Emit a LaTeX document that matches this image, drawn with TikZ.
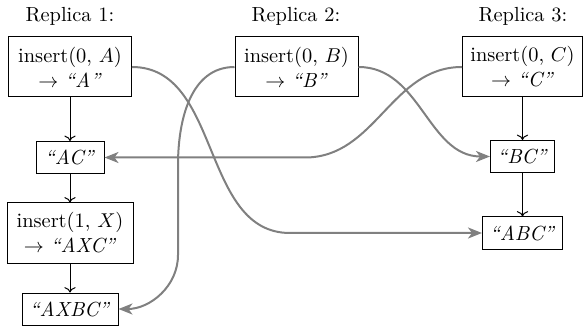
\documentclass[tikz,border=0pt]{standalone}
\usepackage{fontspec}
\usetikzlibrary{arrows.meta}
\begin{document}
\begin{tikzpicture}[x=0.5pt,y=-0.5pt,
  every node/.style={font=\fontsize{10.2}{12.5}\selectfont},
  box/.style={draw, line width=0.5pt, inner sep=0pt, align=center, minimum height=16pt},
  dbox/.style={box, minimum height=30pt},
  flow/.style={->, line width=0.5pt},
  msg/.style={-{Stealth[length=7pt,width=5.5pt,inset=2pt]}, draw=black!50, line width=1pt},
  lbl/.style={inner sep=0pt}]
\useasboundingbox (0,0) rectangle (583,331);
\node[lbl] (r1) at (70,16) {Replica 1:};
\node[lbl] (r2) at (296,16) {Replica 2:};
\node[lbl] (r3) at (523,16) {Replica 3:};
\node[dbox, minimum width=61.5pt] (A) at (70,67) {insert(0, $A$)\\ $\to$ \textit{“A”}};
\node[dbox, minimum width=61.5pt] (B) at (296.5,67) {insert(0, $B$)\\ $\to$ \textit{“B”}};
\node[dbox, minimum width=60pt] (C) at (522.5,67) {insert(0, $C$)\\ $\to$ \textit{“C”}};
\node[box, minimum width=34pt] (AC) at (70,157.5) {\textit{“AC”}};
\node[dbox, minimum width=63pt] (X) at (70,233) {insert(1, $X$)\\ $\to$ \textit{“AXC”}};
\node[box, minimum width=48pt] (AXBC) at (70,309) {\textit{“AXBC”}};
\node[box, minimum width=32pt] (BC) at (522.5,156.5) {\textit{“BC”}};
\node[box, minimum width=40pt] (ABC) at (522.5,233) {\textit{“ABC”}};
\coordinate (a1) at (290,233);
\coordinate (b1) at (178,165);
\coordinate (b2) at (178,255);
\coordinate (c1) at (305,157.5);
\draw[flow] (A) -- (AC);
\draw[flow] (AC) -- (X);
\draw[flow] (X) -- (AXBC);
\draw[flow] (C) -- (BC);
\draw[flow] (BC) -- (ABC);
\draw[msg] (A.east) to[out=0,in=180] (a1) -- (ABC.west);
\draw[msg] (B.west) to[out=180,in=90] (b1) -- (b2) to[out=-90,in=0] (AXBC.east);
\draw[msg] (B.east) to[out=0,in=180] (BC.west);
\draw[msg] (C.west) to[out=180,in=0] (c1) -- (AC.east);
\end{tikzpicture}
\end{document}
